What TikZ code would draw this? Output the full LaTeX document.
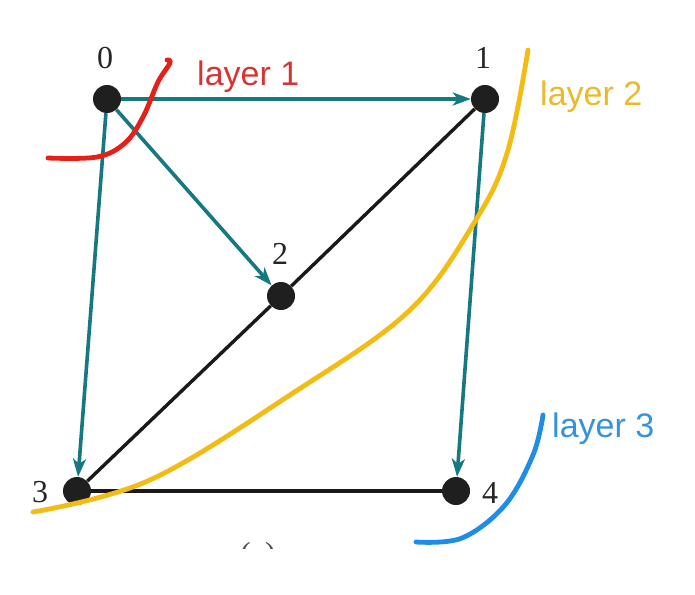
\documentclass[tikz,border=0pt]{standalone}
\usepackage{fontspec}
\setmainfont{Liberation Serif}
\newfontfamily\labelfont{Liberation Sans}
\usetikzlibrary{arrows.meta}
\definecolor{teal1}{RGB}{22,120,128}
\definecolor{redink}{RGB}{228,32,24}
\definecolor{redtext}{RGB}{214,52,52}
\definecolor{yellowink}{RGB}{243,188,20}
\definecolor{yellowtext}{RGB}{236,186,40}
\definecolor{blueink}{RGB}{30,140,232}
\definecolor{bluetext}{RGB}{52,146,222}
\tikzset{
  vertex/.style={circle,fill=black!88,minimum size=28pt,inner sep=0pt},
  numlabel/.style={font=\fontsize{32}{34}\selectfont,text=black!85,inner sep=0pt},
  layerlabel/.style={font=\labelfont\fontsize{34}{36}\selectfont,inner sep=0pt,anchor=base west},
  darrow/.style={teal1,line width=3.6pt,-{Stealth[length=18pt,width=13pt,inset=5pt]}},
  bline/.style={black!90,line width=3.4pt},
  ink/.style={line width=4.8pt,line cap=round,line join=round}
}
\begin{document}
\begin{tikzpicture}[x=1pt,y=-1pt]
\useasboundingbox[fill=white] (0,0) rectangle (695,594);
% vertices
\node[vertex] (v0) at (107,99) {};
\node[vertex] (v1) at (485,99) {};
\node[vertex] (v2) at (281,296) {};
\node[vertex] (v3) at (77,491) {};
\node[vertex] (v4) at (456,491) {};
% vertex labels
\node[numlabel] (l0) at (105,58) {0};
\node[numlabel] (l1) at (483,58) {1};
\node[numlabel] (l2) at (280,254) {2};
\node[numlabel] (l3) at (40,492) {3};
\node[numlabel] (l4) at (490,493) {4};
% black edges
\draw[bline] (v1) -- (v2);
\draw[bline] (v2) -- (v3);
\draw[bline] (v3) -- (v4);
% teal arrows
\draw[darrow] (v0) -- (v1);
\draw[darrow] (v0) -- (v2);
\draw[darrow] (v0) -- (v3);
\draw[darrow] (v1) -- (v4);
% layer curves
\draw[ink,redink] plot[smooth,tension=0.6] coordinates {(48,158) (97,157) (125,143) (143,117) (158,82) (170,63) (167,60)};
\draw[ink,yellowink] plot[smooth,tension=0.6] coordinates {(33,512) (150,480) (293,393) (410,310) (477,218) (508,150) (528,50)};
\draw[ink,blueink] plot[smooth,tension=0.6] coordinates {(416,542) (462,538) (505,505) (533,455) (543,415)};
% layer labels
\node[layerlabel,text=redtext] (t1) at (197,85) {layer 1};
\node[layerlabel,text=yellowtext] (t2) at (540,105) {layer 2};
\node[layerlabel,text=bluetext] (t3) at (552,437) {layer 3};
% partially visible caption
\begin{scope}
\clip (200,530) rectangle (320,548);
\node[numlabel,text=black!70] (cap) at (258,557) {(c)};
\end{scope}
\end{tikzpicture}
\end{document}
